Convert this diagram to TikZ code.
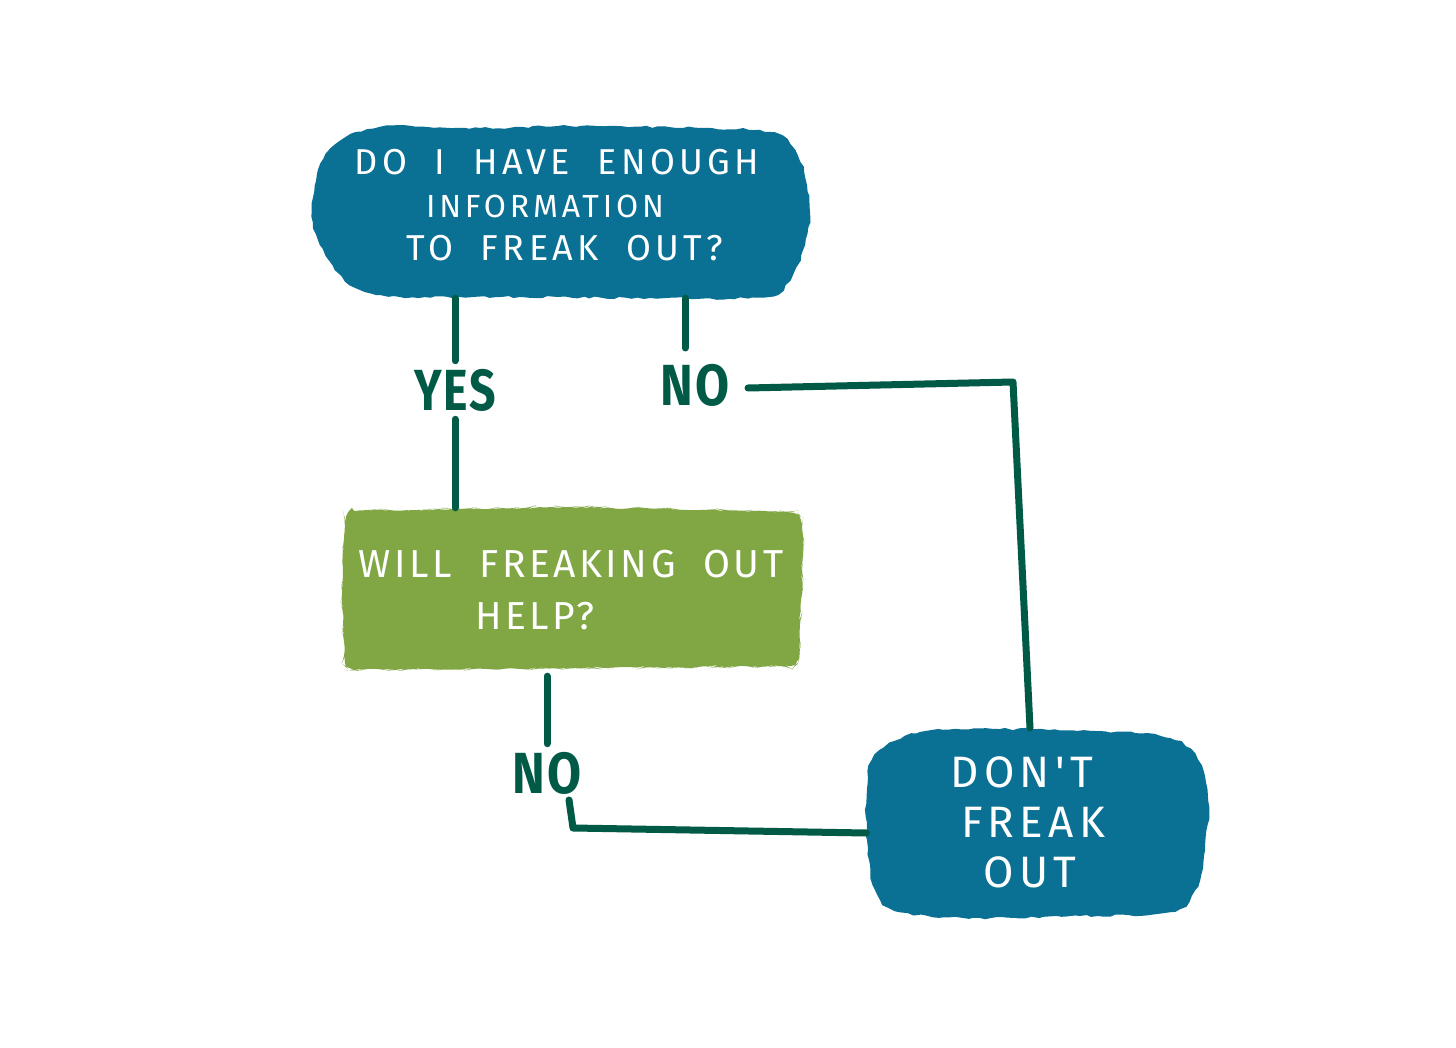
\documentclass[tikz,border=0pt]{standalone}
\usepackage{fontspec}
\setmainfont{Fira Sans}
\newfontfamily\boxfont[LetterSpace=12]{Fira Sans}
\newfontfamily\greenfont[LetterSpace=9]{Fira Sans}
\newfontfamily\labfont[LetterSpace=4]{Fira Sans}
\usetikzlibrary{decorations.pathmorphing}
\definecolor{qblue}{HTML}{0A7094}
\definecolor{qgreen}{HTML}{80A744}
\definecolor{lgreen}{HTML}{015A46}
\begin{document}
\begin{tikzpicture}[x=1pt,y=-1pt,
  area/.style={draw=none,inner sep=0pt},
  boxtext/.style={text=white,align=center,inner sep=0pt},
  lab/.style={text=lgreen,inner sep=8pt,font=\labfont\bfseries\fontsize{58}{60}\selectfont},
  conn/.style={draw=lgreen,line width=7pt,line cap=round,line join=round},
  rough/.style={decorate,decoration={random steps,segment length=6pt,amplitude=1.2pt}}]
\useasboundingbox (0,0) rectangle (1456,1048);
\fill[white] (0,0) rectangle (1456,1048);
% blobs
\fill[qblue,rough] plot[smooth cycle,tension=0.6] coordinates {(380,127) (480,128) (580,126) (700,128) (770,132) (795,150) (807,185) (810,215) (803,250) (790,280) (765,297) (650,298) (520,297) (400,297) (360,290) (335,270) (318,240) (312,210) (318,170) (335,145)};
\fill[qgreen,rough,rounded corners=9pt] (345,511) -- (560,507) -- (799,512) -- (803,540) -- (799,666) -- (560,668) -- (345,670) -- (342,600) -- cycle;
\fill[qblue,rough] plot[smooth cycle,tension=0.6] coordinates {(920,732) (1000,729) (1100,731) (1170,738) (1198,760) (1208,800) (1205,850) (1195,890) (1170,912) (1080,916) (980,918) (900,912) (875,890) (867,840) (867,790) (875,755)};
% area nodes
\node[area,minimum width=498,minimum height=172] (q1) at (561,212) {};
\node[area,minimum width=461,minimum height=162] (q2) at (572,589) {};
\node[area,minimum width=341,minimum height=190] (q3) at (1037,823) {};
% texts
\node[boxtext,font=\boxfont\fontsize{36}{43}\selectfont] (t1) at (557,205) {DO\ \ I\ \ HAVE\ \ ENOUGH\\{\fontsize{32}{43}\selectfont INFORMATION}\hspace*{24pt}\null\\\hspace*{16pt}TO\ \ FREAK\ \ OUT?};
\node[boxtext,font=\greenfont\fontsize{39}{52}\selectfont] (t2) at (571,590) {WILL\ \ FREAKING\ \ OUT\\HELP?\hspace*{72pt}\null};
\node[boxtext,font=\boxfont\fontsize{44}{50}\selectfont] (t3) at (1030,822) {DON'T\hspace*{16pt}\null\\\hspace*{6pt}FREAK\\OUT};
% labels
\node[lab] (yes) at (455,390) {\scalebox{0.8}[1]{YES}};
\node[lab] (no1) at (695,385) {\scalebox{0.85}[1]{NO}};
\node[lab] (no2) at (547,773) {\scalebox{0.85}[1]{NO}};
% connectors
\coordinate (n1a) at (685,348);
\coordinate (n1b) at (748,388);
\coordinate (c1) at (1013,382);
\coordinate (c2) at (1030,728);
\coordinate (b1) at (569,800);
\coordinate (b2) at (573,828);
\draw[conn] (yes.north |- q1.south) -- (yes.north);
\draw[conn] (yes.south) -- (yes.south |- q2.north);
\draw[conn] (n1a |- q1.south) -- (n1a);
\draw[conn] (n1b) -- (c1) -- (c2);
\draw[conn] ([yshift=-6pt]q2.south -| no2.north) -- (no2.north);
\draw[conn] (b1) -- (b2) -- ([yshift=-10pt]q3.west);
\end{tikzpicture}
\end{document}
